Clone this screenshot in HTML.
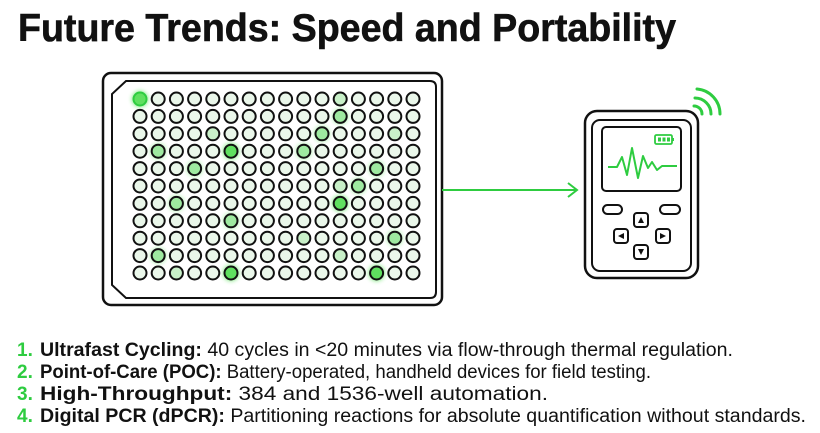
<!DOCTYPE html>
<html><head><meta charset="utf-8"><style>
html,body{margin:0;padding:0;background:#fff;}
svg{display:block;font-family:"Liberation Sans",sans-serif;}
</style></head><body>
<svg width="820" height="433" viewBox="0 0 820 433" xmlns="http://www.w3.org/2000/svg">
<defs>
<filter id="gl" x="-1" y="-1" width="3" height="3"><feGaussianBlur stdDeviation="2"/></filter>
</defs>
<text x="18" y="41" font-size="39" font-weight="bold" fill="#111" stroke="#111" stroke-width="0.6" textLength="658" lengthAdjust="spacingAndGlyphs">Future Trends: Speed and Portability</text>
<!-- plate -->
<rect x="103" y="73" width="339" height="232" rx="8" fill="#fff" stroke="#111" stroke-width="2.5"/>
<path d="M126 81 H430 Q436 81 436 87 V292 Q436 298 430 298 H126 L112 285 V94 Z" fill="#fff" stroke="#111" stroke-width="2"/>
<g id="wells"></g>
<!-- arrow -->
<line x1="442" y1="190" x2="576" y2="190" stroke="#2ecc40" stroke-width="2"/>
<path d="M568 183 L577 190 L568 197" fill="none" stroke="#2ecc40" stroke-width="2"/>
<!-- device -->
<rect x="585" y="111" width="113" height="167" rx="12" fill="#fff" stroke="#111" stroke-width="2.5"/>
<rect x="592" y="120" width="99" height="151" rx="8" fill="none" stroke="#111" stroke-width="2"/>
<rect x="602" y="127" width="79" height="64" rx="4" fill="#fff" stroke="#111" stroke-width="2"/>
<rect x="655" y="135" width="17" height="9" rx="1.5" fill="none" stroke="#2ecc40" stroke-width="1.8"/>
<rect x="672" y="138" width="2" height="3" fill="#2ecc40"/>
<rect x="658" y="137.5" width="3" height="4" fill="#2ecc40"/><rect x="662.5" y="137.5" width="3" height="4" fill="#2ecc40"/><rect x="667" y="137.5" width="3" height="4" fill="#2ecc40"/>
<polyline points="608,167 617,167 622,157 627,175 632,148 638,178 643,156 648,168 652,162 657,170 662,166 677,166" fill="none" stroke="#2ecc40" stroke-width="2" stroke-linejoin="round"/>
<rect x="603" y="205" width="19" height="9" rx="4.5" fill="#fff" stroke="#111" stroke-width="2"/>
<rect x="660" y="205" width="20" height="9" rx="4.5" fill="#fff" stroke="#111" stroke-width="2"/>
<g fill="#fff" stroke="#111" stroke-width="2">
<rect x="634" y="213" width="14" height="14" rx="3"/>
<rect x="614" y="229" width="14" height="14" rx="3"/>
<rect x="656" y="229" width="14" height="14" rx="3"/>
<rect x="634" y="245" width="14" height="14" rx="3"/>
</g>
<g fill="#111">
<path d="M638 223 L644 223 L641 217 Z"/>
<path d="M624 233 L624 239 L618 236 Z"/>
<path d="M660 233 L660 239 L666 236 Z"/>
<path d="M638 249 L644 249 L641 255 Z"/>
</g>
<g fill="none" stroke="#2ecc40" stroke-width="3" stroke-linecap="round">
<path d="M694 106 A8 8 0 0 1 702 114"/>
<path d="M695 98 A16 16 0 0 1 711 114"/>
<path d="M697 89 A25 25 0 0 1 720 114"/>
</g>
<!-- list -->
<g font-size="19" fill="#111">
<text x="17" y="356"><tspan fill="#2ecc40" font-weight="bold">1.</tspan></text>
<text x="40" y="356" textLength="693" lengthAdjust="spacingAndGlyphs"><tspan font-weight="bold">Ultrafast Cycling:</tspan> 40 cycles in &lt;20 minutes via flow-through thermal regulation.</text>
<text x="17" y="378"><tspan fill="#2ecc40" font-weight="bold">2.</tspan></text>
<text x="40" y="378" textLength="611" lengthAdjust="spacingAndGlyphs"><tspan font-weight="bold">Point-of-Care (POC):</tspan> Battery-operated, handheld devices for field testing.</text>
<text x="17" y="400"><tspan fill="#2ecc40" font-weight="bold">3.</tspan></text>
<text x="40" y="400" textLength="508" lengthAdjust="spacingAndGlyphs"><tspan font-weight="bold">High-Throughput:</tspan> 384 and 1536-well automation.</text>
<text x="17" y="422"><tspan fill="#2ecc40" font-weight="bold">4.</tspan></text>
<text x="40" y="422" textLength="766" lengthAdjust="spacingAndGlyphs"><tspan font-weight="bold">Digital PCR (dPCR):</tspan> Partitioning reactions for absolute quantification without standards.</text>
</g>
</svg>
<script>
(function(){
var g=document.getElementById('wells'),h='';
var hot={'0,0':3,'0,11':1,'1,11':2,'2,4':1,'2,10':2,'2,14':1,'3,1':2,'3,5':3,'3,9':2,'4,3':2,'4,13':2,'5,12':2,'5,11':1,'6,2':2,'6,11':3,'7,5':2,'8,9':1,'8,14':2,'9,1':2,'9,11':1,'10,2':1,'10,5':3,'10,13':3};
for(var r=0;r<11;r++)for(var c=0;c<16;c++){
var x=140+c*18.2,y=99+r*17.4,k=hot[r+','+c]||0;
if(k>=2)h+='<circle cx="'+x+'" cy="'+y+'" r="8" fill="#4be04b" opacity="'+(k==3?0.7:0.4)+'" filter="url(#gl)"/>';
var f=k==3?'#5fe05f':k==2?'#9eeaa0':k==1?'#c8f0c8':'#eaf7ea';
h+='<circle cx="'+x+'" cy="'+y+'" r="6.5" fill="'+f+'" stroke="'+(r==0&&c==0?'#2ecc40':'#111')+'" stroke-width="2"/>';
}
g.innerHTML=h;
})();
</script>
</body></html>
